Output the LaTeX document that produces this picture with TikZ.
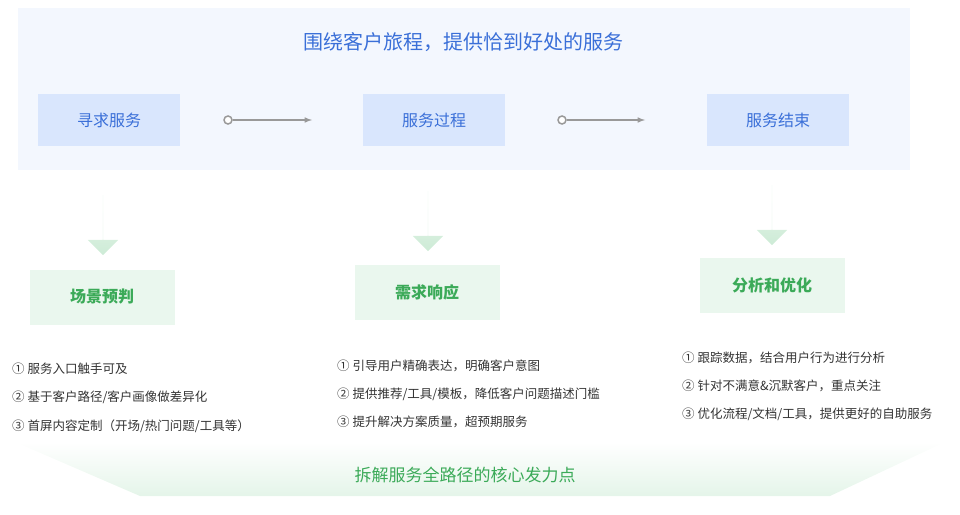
\documentclass[tikz,border=0pt]{standalone}
\usepackage{fontspec}
\setmainfont{Noto Sans CJK SC}
\usetikzlibrary{positioning, shapes.arrows, fadings}
\definecolor{bluebg}{HTML}{F3F7FE}
\definecolor{bluebox}{HTML}{D9E6FD}
\definecolor{bluetxt}{HTML}{3A6FD8}
\definecolor{greenbox}{HTML}{EAF7EE}
\definecolor{greentxt}{HTML}{3BAA58}
\definecolor{greenarrow}{HTML}{CDEBD6}
\definecolor{listtxt}{HTML}{333333}
\tikzset{
  stagebox/.style={fill=bluebox, minimum width=142pt, minimum height=52pt, text=bluetxt, font=\fontsize{16}{19}\selectfont},
  focusbox/.style={fill=greenbox, minimum width=145pt, minimum height=55pt, text=greentxt, font=\fontsize{16}{19}\selectfont\bfseries},
  downarrow/.style={single arrow, shape border rotate=270, top color=greenarrow!40, bottom color=greenarrow, draw=none,
    minimum height=60pt, minimum width=30pt, single arrow head extend=15pt, inner sep=0pt},
  flow/.style={draw=gray!80, line width=1.5pt, -latex},
  listitem/.style={anchor=west, text=listtxt, font=\fontsize{12.5}{15}\selectfont, inner sep=0pt}
}
\begin{document}
\begin{tikzpicture}[x=1pt, y=-1pt]
  \useasboundingbox (0,0) rectangle (960,514);
  % top panel
  \fill[bluebg] (18,8) rectangle (910,170);
  \node[text=bluetxt, font=\fontsize{20}{24}\selectfont] (title) at (463,42) {围绕客户旅程，提供恰到好处的服务};
  \node[stagebox] (seek) at (109,120) {寻求服务};
  \node[stagebox] (process) at (434,120) {服务过程};
  \node[stagebox] (finish) at (778,120) {服务结束};
  \node[circle, draw=gray!80, line width=1.5pt, inner sep=0pt, minimum size=8pt, fill=white] (c1) at (228,120) {};
  \node[circle, draw=gray!80, line width=1.5pt, inner sep=0pt, minimum size=8pt, fill=white] (c2) at (562,120) {};
  \coordinate (e1) at (312,120);
  \coordinate (e2) at (645,120);
  \draw[flow] (c1) -- (e1);
  \draw[flow] (c2) -- (e2);
  % down arrows
  \node[downarrow] (d1) at (103,225) {};
  \node[downarrow] (d2) at (428,221) {};
  \node[downarrow] (d3) at (772,215) {};
  % focus boxes
  \node[focusbox] (scene) at (102,297) {场景预判};
  \node[focusbox] (reply) at (427,292) {需求响应};
  \node[focusbox] (optim) at (772,285) {分析和优化};
  % lists
  \node[listitem] (a1) at (12,369) {① 服务入口触手可及};
  \node[listitem] (a2) at (12,397) {② 基于客户路径/客户画像做差异化};
  \node[listitem] (a3) at (12,426) {③ 首屏内容定制（开场/热门问题/工具等）};
  \node[listitem] (b1) at (337,366) {① 引导用户精确表达，明确客户意图};
  \node[listitem] (b2) at (337,394) {② 提供推荐/工具/模板，降低客户问题描述门槛};
  \node[listitem] (b3) at (337,422) {③ 提升解决方案质量，超预期服务};
  \node[listitem] (c1t) at (682,358) {① 跟踪数据，结合用户行为进行分析};
  \node[listitem] (c2t) at (682,386) {② 针对不满意\&沉默客户，重点关注};
  \node[listitem] (c3t) at (682,414) {③ 优化流程/文档/工具，提供更好的自助服务};
  % bottom band
  \shade[top color=white, bottom color=greenbox!80!greenarrow] (15,442) -- (945,442) -- (830,496) -- (140,496) -- cycle;
  \node[text=greentxt, font=\fontsize{17}{20}\selectfont] (core) at (465,475) {拆解服务全路径的核心发力点};
\end{tikzpicture}
\end{document}
